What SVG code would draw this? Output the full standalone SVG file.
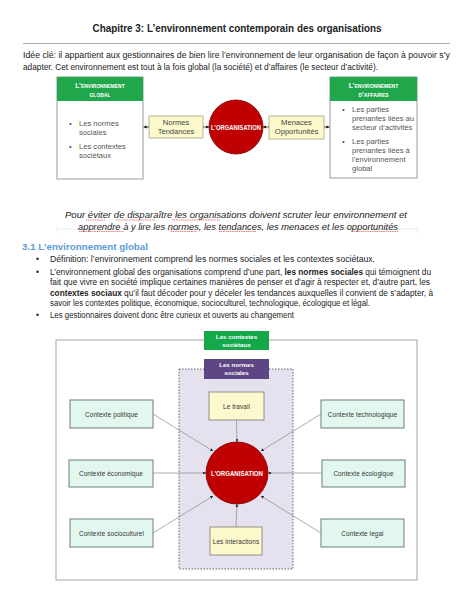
<svg xmlns="http://www.w3.org/2000/svg" width="474" height="613" viewBox="0 0 474 613">
<style>
text{font-family:"Liberation Sans",Arial,sans-serif;fill:#222}
.body{font-size:8.3px}
.b{font-weight:bold}
.hdr{font-size:6.8px;font-weight:bold;fill:#fff;font-variant:small-caps;text-anchor:middle}
.grn{fill:#21a74b}
.wbox{fill:#fff;stroke:#9a9a9a;stroke-width:1}
.yel{fill:#fcf9cc;stroke:#a8a57a;stroke-width:0.8}
.small{font-size:7.6px;fill:#555}
.ctr{text-anchor:middle}
.org{fill:#c00000;stroke:#7a0000;stroke-width:0.8}
.orgt{font-size:6.8px;font-weight:bold;fill:#fff;text-anchor:middle}
.ctx{fill:#e2f8ee;stroke:#6c7c78;stroke-width:1}
.ctxt{font-size:6.4px;fill:#333;text-anchor:middle;letter-spacing:0.1px}
.con{stroke:#333;stroke-width:0.8;fill:none}
.con2{stroke:#888;stroke-width:0.7;fill:none}
.sq{stroke:#e04848;stroke-width:0.7;fill:none;stroke-dasharray:1.2,0.6}
</style>
<defs>
<marker id="ah" viewBox="0 0 6 6" refX="6" refY="3" markerWidth="4" markerHeight="4" orient="auto-start-reverse">
<path d="M0,0 L6,3 L0,6 z" fill="#111"/>
</marker>
</defs>
<rect x="0" y="0" width="474" height="613" fill="#fff"/>

<g id="page-text">
<text x="237" y="32" class="b ctr" font-size="10.2" textLength="289" lengthAdjust="spacingAndGlyphs">Chapitre 3: L’environnement contemporain des organisations</text>
<line x1="23" y1="43.5" x2="450" y2="43.5" stroke="#aaa" stroke-width="1"/>
<text x="23" y="58" class="body" textLength="427" lengthAdjust="spacingAndGlyphs">Idée clé: il appartient aux gestionnaires de bien lire l’environnement de leur organisation de façon à pouvoir s’y</text>
<text x="23" y="69.5" class="body" textLength="355" lengthAdjust="spacingAndGlyphs">adapter. Cet environnement est tout à la fois global (la société) et d’affaires (le secteur d’activité).</text>
</g>

<g id="env-global">
<rect x="57" y="77" width="86" height="102" class="wbox"/>
<rect x="57" y="77" width="86" height="24" class="grn"/>
<text x="100" y="87.5" class="hdr">L’environnement</text>
<text x="100" y="96.5" class="hdr">global</text>
<text x="69" y="126" class="small">•</text>
<text x="79" y="126" class="small">Les normes</text>
<text x="79" y="135" class="small">sociales</text>
<text x="69" y="149" class="small">•</text>
<text x="79" y="149" class="small">Les contextes</text>
<text x="79" y="158" class="small">sociétaux</text>
</g>

<g id="env-affaires">
<rect x="330" y="77" width="87" height="101" class="wbox"/>
<rect x="330" y="77" width="87" height="24" class="grn"/>
<text x="373.5" y="87.5" class="hdr">L’environnement</text>
<text x="373.5" y="96.5" class="hdr">d’affaires</text>
<text x="342" y="112" class="small">•</text>
<text x="352" y="112" class="small">Les parties</text>
<text x="352" y="121" class="small">prenantes liées au</text>
<text x="352" y="130" class="small">secteur d’activités</text>
<text x="342" y="144" class="small">•</text>
<text x="352" y="144" class="small">Les parties</text>
<text x="352" y="153" class="small">prenantes liées à</text>
<text x="352" y="162" class="small">l’environnement</text>
<text x="352" y="171" class="small">global</text>
</g>

<g id="normes-tendances">
<rect x="149" y="116" width="54" height="22" class="yel"/>
<text x="176" y="125" class="small ctr" style="fill:#444">Normes</text>
<text x="176" y="134" class="small ctr" style="fill:#444">Tendances</text>
</g>

<g id="organisation-top">
<circle cx="236" cy="127" r="27" class="org"/>
<text x="236" y="129.5" class="orgt" textLength="50" lengthAdjust="spacingAndGlyphs">L’ORGANISATION</text>
</g>

<g id="menaces-opportunites">
<rect x="269" y="116" width="55" height="23" class="yel"/>
<text x="296.5" y="125" class="small ctr" style="fill:#444">Menaces</text>
<text x="296.5" y="134" class="small ctr" style="fill:#444">Opportunités</text>
</g>

<g id="connectors-top">
<line x1="149" y1="127" x2="143.5" y2="127" class="con" marker-end="url(#ah)"/>
<line x1="203" y1="127" x2="209" y2="127" class="con" marker-end="url(#ah)"/>
<line x1="269" y1="127" x2="263" y2="127" class="con" marker-end="url(#ah)"/>
<line x1="324" y1="127" x2="329.5" y2="127" class="con" marker-end="url(#ah)"/>
</g>

<g id="quote">
<path d="M57,226 V233 M417,226 V233 M57,229 H417" stroke="#e6e6e6" stroke-width="0.8" fill="none"/>
<text x="236" y="218" class="ctr" font-size="9.4" font-style="italic" textLength="342" lengthAdjust="spacingAndGlyphs">Pour éviter de disparaître les organisations doivent scruter leur environnement et</text>
<text x="238" y="229.5" class="ctr" font-size="9.4" font-style="italic" textLength="320" lengthAdjust="spacingAndGlyphs">apprendre à y lire les normes, les tendances, les menaces et les opportunités</text>
<path d="M86,220 H105 M116,220 H155 M172,220 H220 M79,231.5 H124 M171,231.5 H197 M219,231.5 H256 M352,231.5 H398" class="sq"/>
</g>

<g id="section">
<text x="22" y="250" class="b" font-size="9.8" style="fill:#5b9bd5" textLength="126" lengthAdjust="spacingAndGlyphs">3.1 L’environnement global</text>
<text x="36" y="262" class="body">•</text>
<text x="50" y="262" class="body" textLength="325" lengthAdjust="spacingAndGlyphs">Définition: l’environnement comprend les normes sociales et les contextes sociétaux.</text>
<text x="36" y="274.5" class="body">•</text>
<text x="50" y="274.5" class="body" textLength="381" lengthAdjust="spacingAndGlyphs">L’environnement global des organisations comprend d’une part, <tspan class="b">les normes sociales</tspan> qui témoignent du</text>
<text x="50" y="285" class="body" textLength="380" lengthAdjust="spacingAndGlyphs">fait que vivre en société implique certaines manières de penser et d’agir à respecter et, d’autre part, les</text>
<text x="50" y="295.5" class="body" textLength="383" lengthAdjust="spacingAndGlyphs"><tspan class="b">contextes sociaux</tspan> qu’il faut décoder pour y déceler les tendances auxquelles il convient de s’adapter, à</text>
<text x="50" y="306" class="body" textLength="320" lengthAdjust="spacingAndGlyphs">savoir les contextes politique, économique, socioculturel, technologique, écologique et légal.</text>
<text x="36" y="318" class="body">•</text>
<text x="50" y="318" class="body" textLength="244" lengthAdjust="spacingAndGlyphs">Les gestionnaires doivent donc être curieux et ouverts au changement</text>
</g>

<g id="outer-frame">
<rect x="56" y="340" width="361" height="240" fill="#fff" stroke="#a5a5a5" stroke-width="1"/>
</g>
<g id="normes-region">
<rect x="179" y="369" width="114" height="200" fill="#e6e1ee" stroke="#444" stroke-width="0.8" stroke-dasharray="1.5,1.5"/>
</g>

<g id="contextes-societaux">
<rect x="204" y="331" width="65" height="19" fill="#14a84b"/>
<text x="236.5" y="339" class="ctr b" font-size="6.2" style="fill:#fff">Les contextes</text>
<text x="236.5" y="346.5" class="ctr b" font-size="6.2" style="fill:#fff">sociétaux</text>
</g>

<g id="normes-sociales">
<rect x="204" y="359" width="65" height="20" fill="#5e4584"/>
<text x="236.5" y="367" class="ctr b" font-size="6.2" style="fill:#fff">Les normes</text>
<text x="236.5" y="375" class="ctr b" font-size="6.2" style="fill:#fff">sociales</text>
</g>

<g id="le-travail">
<rect x="209" y="392" width="55" height="28" class="yel" style="stroke:#777"/>
<text x="236.5" y="408.5" class="ctxt">Le travail</text>
</g>

<g id="les-interactions">
<rect x="210" y="527" width="52" height="28" class="yel" style="stroke:#777"/>
<text x="236" y="543.5" class="ctxt">Les interactions</text>
</g>

<g id="contexte-politique">
<rect x="70" y="400" width="83" height="28" class="ctx"/>
<text x="111.5" y="416.5" class="ctxt">Contexte politique</text>
</g>
<g id="contexte-economique">
<rect x="69" y="460" width="84" height="27" class="ctx"/>
<text x="111" y="476" class="ctxt">Contexte économique</text>
</g>
<g id="contexte-socioculturel">
<rect x="70" y="519" width="83" height="28" class="ctx"/>
<text x="111.5" y="535.5" class="ctxt">Contexte socioculturel</text>
</g>
<g id="contexte-technologique">
<rect x="321" y="400" width="83" height="28" class="ctx"/>
<text x="362.5" y="416.5" class="ctxt">Contexte technologique</text>
</g>
<g id="contexte-ecologique">
<rect x="322" y="460" width="83" height="27" class="ctx"/>
<text x="363.5" y="476" class="ctxt">Contexte écologique</text>
</g>
<g id="contexte-legal">
<rect x="321" y="519" width="83" height="28" class="ctx"/>
<text x="362.5" y="535.5" class="ctxt">Contexte legal</text>
</g>

<g id="organisation-bottom">
<circle cx="237" cy="473" r="31" class="org"/>
<text x="237" y="475.5" class="orgt" textLength="52" lengthAdjust="spacingAndGlyphs">L’ORGANISATION</text>
</g>

<g id="connectors-bottom">
<line x1="153" y1="414" x2="213" y2="451" class="con2" marker-end="url(#ah)"/>
<line x1="321" y1="414" x2="261" y2="451" class="con2" marker-end="url(#ah)"/>
<line x1="236.5" y1="420" x2="237" y2="442" class="con2" marker-end="url(#ah)"/>
<line x1="153" y1="473" x2="206" y2="473" class="con2" marker-end="url(#ah)"/>
<line x1="322" y1="473" x2="268" y2="473" class="con2" marker-end="url(#ah)"/>
<line x1="153" y1="533" x2="213" y2="496" class="con2" marker-end="url(#ah)"/>
<line x1="321" y1="533" x2="261" y2="496" class="con2" marker-end="url(#ah)"/>
<line x1="236" y1="527" x2="237" y2="504" class="con2" marker-end="url(#ah)"/>
</g>
</svg>
